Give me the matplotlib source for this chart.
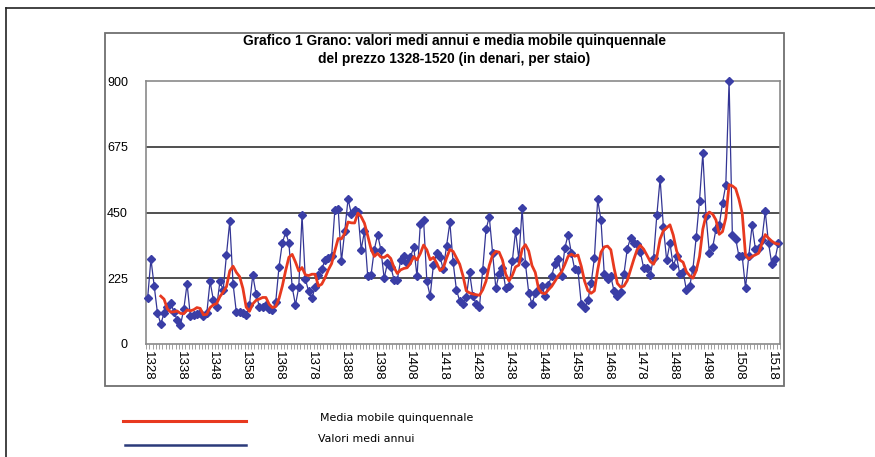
import numpy as np
import pandas as pd
import matplotlib
matplotlib.use('Agg')
import matplotlib.pyplot as plt
from matplotlib.lines import Line2D
from matplotlib.patches import Rectangle

# Anni (una categoria per anno)
years = np.arange(1328, 1521)

# Prezzo medio annuo del grano (denari per staio)
prices = [
    157, 291, 197, 105, 69, 105, 125, 142, 110, 82,     # 1328-1337
    65, 119, 206, 96, 100, 102, 105, 96, 105, 214,      # 1338-1347
    151, 126, 214, 185, 306, 420, 206, 109, 111, 105,   # 1348-1357
    100, 134, 236, 172, 128, 126, 134, 119, 116, 145,   # 1358-1367
    265, 346, 382, 346, 194, 134, 194, 440, 223, 180,   # 1368-1377
    157, 194, 237, 256, 288, 294, 300, 460, 462, 283,   # 1378-1387
    386, 496, 446, 460, 452, 323, 386, 231, 236, 323,   # 1388-1397
    374, 323, 225, 277, 265, 220, 220, 286, 302, 277,   # 1398-1407
    297, 332, 231, 409, 424, 214, 164, 271, 311, 297,   # 1408-1417
    256, 336, 416, 279, 185, 148, 137, 160, 245, 165,   # 1418-1427
    137, 126, 254, 392, 435, 313, 191, 240, 260, 191,   # 1428-1437
    199, 283, 386, 291, 464, 275, 176, 136, 174, 187,   # 1438-1447
    199, 165, 202, 234, 275, 291, 231, 329, 374, 311,   # 1448-1457
    256, 252, 137, 122, 149, 208, 294, 495, 424, 240,   # 1458-1467
    222, 231, 180, 163, 177, 240, 325, 363, 344, 341,   # 1468-1477
    314, 260, 260, 237, 294, 440, 566, 401, 286, 346,   # 1478-1487
    266, 300, 239, 248, 185, 197, 258, 366, 491, 652,   # 1488-1497
    437, 311, 331, 392, 406, 483, 544, 900, 372, 361,   # 1498-1507
    300, 300, 191, 302, 406, 326, 329, 357, 454, 346,   # 1508-1517
    274, 291, 346,                                      # 1518-1520
]

y_ticks = [0, 225, 450, 675, 900]
x_label_years = np.arange(1328, 1521, 10)

title = ('Grafico 1 Grano: valori medi annui e media mobile quinquennale\n'
         'del prezzo 1328-1520 (in denari, per staio)')
legend_labels = ['Media mobile quinquennale', 'Valori medi annui']

# media mobile su 5 anni (trascinata, come la linea di tendenza)
ma5 = pd.Series(prices, index=years).rolling(5).mean()

W, H = 875, 457
fig = plt.figure(figsize=(W / 100, H / 100), dpi=100)
fig.patch.set_facecolor('white')

def fx(px):
    return px / W

def fy(py):
    return 1 - py / H

ax = fig.add_axes([fx(146), fy(344), fx(780) - fx(146), fy(81) - fy(344)])

blue = '#333594'
red = '#e8391f'

ax.plot(years, prices, color=blue, lw=0.9, marker='D', ms=4.4,
        mfc='#3a3ea6', mec='#3a3ea6', zorder=3, clip_on=False)
ax.plot(years, ma5.values, color=red, lw=2.0, zorder=4)

ax.set_xlim(1327.5, 1520.5)
ax.set_ylim(0, 900)

ax.set_yticks(y_ticks)
ax.set_yticklabels([str(v) for v in y_ticks], fontsize=9, family='Liberation Sans')
ax.tick_params(axis='y', length=0, pad=13)
for lab in ax.get_yticklabels():
    lab.set_horizontalalignment('right')

for v in y_ticks[1:-1]:
    ax.axhline(v, color='#505050', lw=1.4, zorder=1)

ax.set_xticks(x_label_years)
ax.set_xticklabels([str(y) for y in x_label_years], rotation=-90,
                   fontsize=9.5, family='Liberation Sans')
ax.tick_params(axis='x', which='major', length=0, pad=5)
ax.set_xticks(np.arange(1327.5, 1521, 1), minor=True)
ax.tick_params(axis='x', which='minor', length=3.5, width=0.6,
               color='#909090', direction='out')

for side in ['left', 'right', 'top', 'bottom']:
    ax.spines[side].set_color('#8a8a8a')
    ax.spines[side].set_linewidth(1.2)

# titolo
fig.text(fx(454), fy(50), title, ha='center', va='center', fontsize=9.9,
         fontweight='bold', family='Liberation Sans', linespacing=1.3)

# cornice del grafico
fig.add_artist(Rectangle((fx(105), fy(386)), fx(784) - fx(105), fy(33) - fy(386),
                         transform=fig.transFigure, fill=False,
                         edgecolor='#707070', lw=1.3))

# cornice della pagina (lato sinistro e superiore)
fig.add_artist(Line2D([fx(6), fx(6)], [fy(8), 0], transform=fig.transFigure,
                      color='#222222', lw=1.2))
fig.add_artist(Line2D([fx(6), 1], [fy(8), fy(8)], transform=fig.transFigure,
                      color='#222222', lw=1.2))

# legenda sotto il grafico
fig.add_artist(Line2D([fx(123), fx(246)], [fy(421), fy(421)],
                      transform=fig.transFigure, color=red, lw=2.2))
fig.add_artist(Line2D([fx(125), fx(246)], [fy(445), fy(445)],
                      transform=fig.transFigure, color='#2b3a7a', lw=1.8))
fig.text(fx(320), fy(418), legend_labels[0], ha='left', va='center',
         fontsize=7.9, family='DejaVu Sans')
fig.text(fx(318), fy(439), legend_labels[1], ha='left', va='center',
         fontsize=7.9, family='DejaVu Sans')

fig.savefig('out.png', dpi=100)
